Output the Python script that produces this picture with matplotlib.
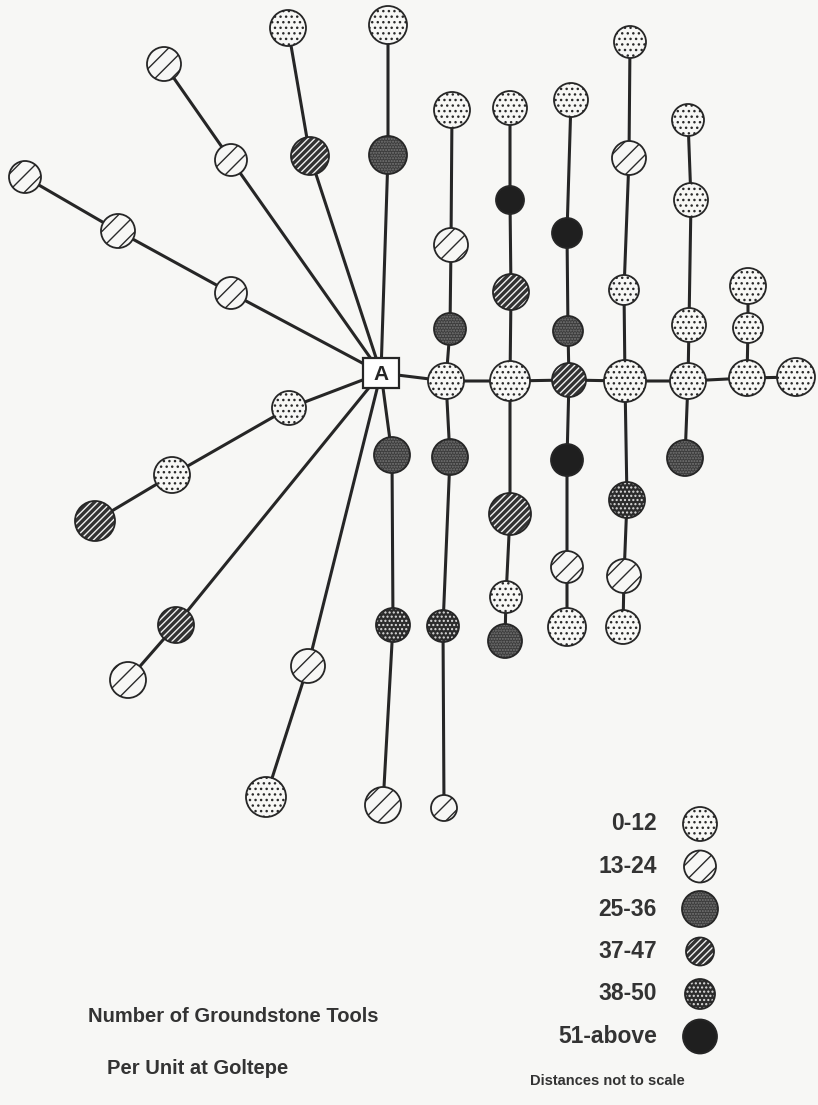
import matplotlib.pyplot as plt
from matplotlib.patches import Circle, Rectangle

plt.rcParams['font.family'] = ['Liberation Sans', 'DejaVu Sans']
plt.rcParams['hatch.linewidth'] = 1.0

# size classes (number of groundstone tools per unit)
class_labels = ["0-12", "13-24", "25-36", "37-47", "38-50", "51-above"]

# units (pixel-like layout coordinates, y downwards)
node_id = ["A",
           "a1", "a2", "a3", "b1", "b2", "c1", "c2", "d1", "d2",
           "e1", "e2", "e3", "f1", "f2", "g1", "g2", "h1", "h2", "h3",
           "m1", "m2", "m3", "m4", "m5", "m6", "m7",
           "p1u", "p2u", "p3u", "p1d", "p2d", "p3d",
           "q1u", "q2u", "q3u", "q1d", "q2d", "q3d",
           "r1u", "r2u", "r3u", "r1d", "r2d", "r3d",
           "s1u", "s2u", "s3u", "s1d", "s2d", "s3d",
           "t1u", "t2u", "t3u", "t1d",
           "u1u", "u2u"]
node_x = [381,
          231, 118, 25, 231, 164, 310, 288, 388, 388,
          289, 172, 95, 176, 128, 308, 266, 392, 393, 383,
          446, 510, 569, 625, 688, 747, 796,
          450, 451, 452, 450, 443, 444,
          511, 510, 510, 510, 506, 505,
          568, 567, 571, 567, 567, 567,
          624, 629, 630, 627, 624, 623,
          689, 691, 688, 685,
          748, 748]
node_y = [373,
          293, 231, 177, 160, 64, 156, 28, 155, 25,
          408, 475, 521, 625, 680, 666, 797, 455, 625, 805,
          381, 381, 380, 381, 381, 378, 377,
          329, 245, 110, 457, 626, 808,
          292, 200, 108, 514, 597, 641,
          331, 233, 100, 460, 567, 627,
          290, 158, 42, 500, 576, 627,
          325, 200, 120, 458,
          328, 286]
node_cls = [-1,
            1, 1, 1, 1, 1, 3, 0, 2, 0,
            0, 0, 3, 3, 1, 1, 0, 2, 4, 1,
            0, 0, 3, 0, 0, 0, 0,
            2, 1, 0, 2, 4, 1,
            3, 5, 0, 3, 0, 2,
            2, 5, 0, 5, 1, 0,
            0, 1, 0, 4, 1, 0,
            0, 0, 0, 2,
            0, 0]
node_r = [0,
          16, 17, 16, 16, 17, 19, 18, 19, 19,
          17, 18, 20, 18, 18, 17, 20, 18, 17, 18,
          18, 20, 17, 21, 18, 18, 19,
          16, 17, 18, 18, 16, 13,
          18, 14, 17, 21, 16, 17,
          15, 15, 17, 16, 16, 19,
          15, 17, 16, 18, 17, 17,
          17, 17, 16, 18,
          15, 18]

# links between units
paths = [["A", "a1", "a2", "a3"],
         ["A", "b1", "b2"],
         ["A", "c1", "c2"],
         ["A", "d1", "d2"],
         ["A", "e1", "e2", "e3"],
         ["A", "f1", "f2"],
         ["A", "g1", "g2"],
         ["A", "h1", "h2", "h3"],
         ["A", "m1", "m2", "m3", "m4", "m5", "m6", "m7"],
         ["p3u", "p2u", "p1u", "m1", "p1d", "p2d", "p3d"],
         ["q3u", "q2u", "q1u", "m2", "q1d", "q2d", "q3d"],
         ["r3u", "r2u", "r1u", "m3", "r1d", "r2d", "r3d"],
         ["s3u", "s2u", "s1u", "m4", "s1d", "s2d", "s3d"],
         ["t3u", "t2u", "t1u", "m5", "t1d"],
         ["u2u", "u1u", "m6"]]

legend_r = [17, 16, 18, 14, 15, 17]

paper = '#f7f7f5'
ink = '#262626'
styles = {
    0: dict(face=paper, hatch='...', hcol='#2a2a2a'),
    1: dict(face=paper, hatch='//', hcol='#2a2a2a'),
    2: dict(face='#3c3c3c', hatch='......', hcol='#777777'),
    3: dict(face='#333333', hatch='/////', hcol='#f0f0f0'),
    4: dict(face='#2c2c2c', hatch='....', hcol='#dddddd'),
    5: dict(face='#1f1f1f', hatch=None, hcol='#1f1f1f'),
}


def disc(ax, x, y, r, cls):
    s = styles[cls]
    ax.add_patch(Circle((x, y), r, facecolor=s['face'], edgecolor=s['hcol'],
                        hatch=s['hatch'], lw=0, zorder=3))
    ax.add_patch(Circle((x, y), r, fill=False, edgecolor=ink, lw=1.3, zorder=4))


fig = plt.figure(figsize=(8.18, 11.05), dpi=100, facecolor=paper)
ax = fig.add_axes([0, 0, 1, 1])
ax.set_xlim(0, 818)
ax.set_ylim(1105, 0)
ax.axis('off')

pos = {n: (x, y) for n, x, y in zip(node_id, node_x, node_y)}

for p in paths:
    ax.plot([pos[n][0] for n in p], [pos[n][1] for n in p],
            color=ink, lw=2.2, zorder=2, solid_capstyle='butt')

for n, x, y, c, r in zip(node_id, node_x, node_y, node_cls, node_r):
    if c >= 0:
        disc(ax, x, y, r, c)

# the central unit A
ax.add_patch(Rectangle((pos["A"][0] - 18, pos["A"][1] - 15), 36, 30,
                       facecolor='white', edgecolor=ink, lw=1.6, zorder=5))
ax.text(pos["A"][0], pos["A"][1] + 1, "A", ha='center', va='center',
        fontsize=15, fontweight='bold', color=ink, zorder=6)

# legend
for i, (lab, r) in enumerate(zip(class_labels, legend_r)):
    y = 824 + i * 42.5
    ax.text(657, y, lab, ha='right', va='center', fontsize=16.5,
            fontweight='bold', color='#333333')
    disc(ax, 700, y, r, i)

ax.text(607, 1081, "Distances not to scale", ha='center', va='center',
        fontsize=10.5, fontweight='bold', color='#333333')

# title
ax.text(233, 1016, "Number of Groundstone Tools", ha='center', va='center',
        fontsize=14.5, fontweight='bold', color='#333333')
ax.text(198, 1068, "Per Unit at Goltepe", ha='center', va='center',
        fontsize=14.5, fontweight='bold', color='#333333')

fig.savefig("out.png", dpi=100, facecolor=paper)
